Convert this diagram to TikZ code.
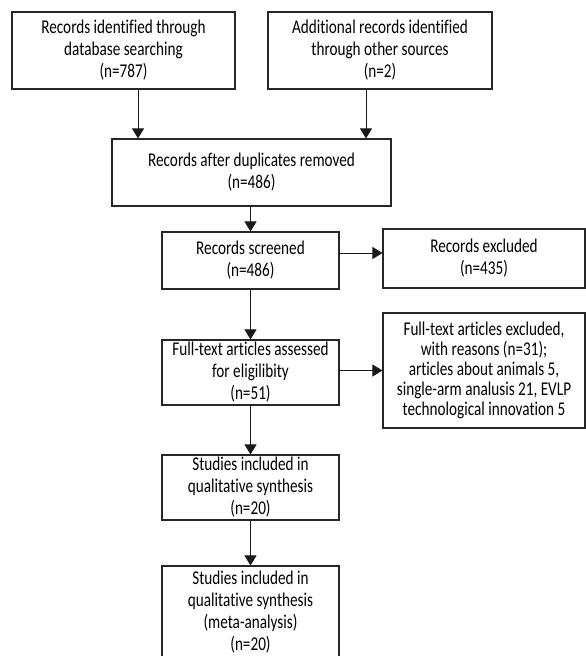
\documentclass[tikz,border=0pt]{standalone}
\usepackage{fontspec}
\setmainfont[FakeStretch=0.78, RawFeature={-liga;-clig;-dlig;-hlig;-calt;-rlig}]{Carlito}
\usetikzlibrary{arrows.meta}

\begin{document}
\begin{tikzpicture}[x=1pt, y=-1pt,
		box/.style={draw=black!85, line width=1.1pt, align=center, inner sep=0pt, font=\fontsize{19.5}{22}\selectfont},
		arr/.style={draw=black!90, line width=0.9pt, -{Triangle[length=10pt,width=12pt]}}]
		%%%%% START %%%%%
		\useasboundingbox (0,0) rectangle (586,656);
		
		\node[box, minimum width=223pt, minimum height=77pt] (db) at (123.5,50.5) {Records identified through\\database searching\\(n=787)};
		\node[box, minimum width=224pt, minimum height=77pt] (other) at (380,50.5) {Additional records identified\\through other sources\\(n=2)};
		\node[box, minimum width=279pt, minimum height=67pt] (dup) at (251.5,172.5) {Records after duplicates removed\\(n=486)};
		
		\node[box, minimum width=177pt, minimum height=57pt] (scr) at (250.5,260.5) {Records screened\\(n=486)};
		\node[box, minimum width=202pt, minimum height=59pt] (exc) at (484,258.5) {Records excluded\\(n=435)};
		
		\node[box, minimum width=177pt, minimum height=65pt] (full) at (250.5,372.5) {Full-text articles assessed\\for eligilibity\\(n=51)};
		\node[box, minimum width=202pt, minimum height=115pt, font=\fontsize{19.5}{20}\selectfont] (excfull) at (484,370.5) {Full-text articles excluded,\\with reasons (n=31);\\articles about animals 5,\\single-arm analusis 21, EVLP\\technological innovation 5};
		
		\node[box, minimum width=177pt, minimum height=65pt] (qual) at (250.5,487.5) {Studies included in\\qualit\kern0pt ative synthesis\\(n=20)};
		\node[box, minimum width=177pt, minimum height=92pt] (meta) at (250.5,612) {Studies included in\\qualit\kern0pt ative synthesis\\(meta-analysis)\\(n=20)};
		
		\draw[arr] ([xshift=14.5pt]db.south) -- ([xshift=14.5pt]db.south |- dup.north);
		\draw[arr] ([xshift=-14pt]other.south) -- ([xshift=-14pt]other.south |- dup.north);
		\draw[arr] (dup.south -| scr.north) -- (scr.north);
		\draw[arr] ([yshift=7.5pt]scr.east) -- ([yshift=7.5pt]scr.east -| exc.west);
		\draw[arr] (scr.south) -- (full.north);
		\draw[arr] (full.east |- excfull.west) -- (excfull.west);
		\draw[arr] (full.south) -- (qual.north);
		\draw[arr] (qual.south) -- (meta.north);
		%%%%% END %%%%%
\end{tikzpicture}
\end{document}
